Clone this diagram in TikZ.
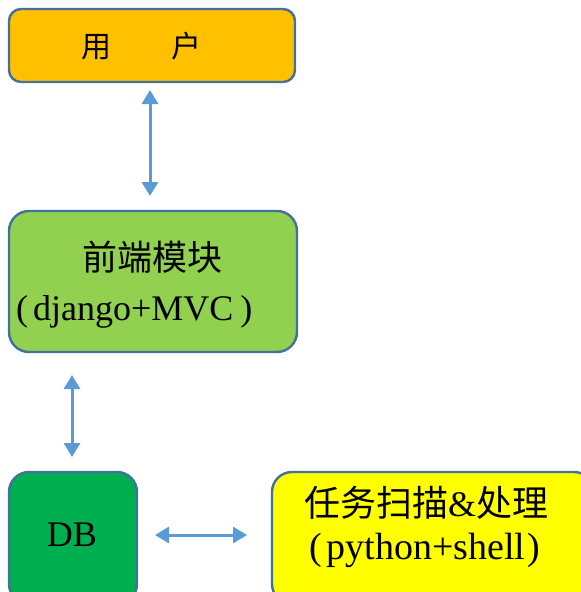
\documentclass[tikz,border=0pt]{standalone}
\usepackage{fontspec}
\setmainfont{Liberation Serif}
\newfontfamily\cjk{Noto Sans CJK SC}
\usetikzlibrary{arrows.meta}
\definecolor{cUser}{HTML}{FFC000}
\definecolor{cFront}{HTML}{92D050}
\definecolor{cDB}{HTML}{00B050}
\definecolor{cTask}{HTML}{FFFF00}
\definecolor{cBorder}{HTML}{41719C}
\definecolor{cArrow}{HTML}{5B9BD5}
\tikzset{
  box/.style={draw=cBorder, line width=2.4pt, inner sep=0pt, outer sep=0pt},
  biarrow/.style={draw=cArrow, line width=3pt, {Triangle[width=16pt,length=14pt]}-{Triangle[width=16pt,length=14pt]}},
  txt/.style={inner sep=0pt, text=black}
}
\begin{document}
\begin{tikzpicture}[x=1pt,y=-1pt]
\useasboundingbox (0,0) rectangle (581,592);
\clip (0,0) rectangle (581,592);
\node[box, fill=cUser, rounded corners=12pt, minimum width=286pt, minimum height=73pt] (user) at (152,45.5) {};
\node[box, fill=cFront, rounded corners=20pt, minimum width=288pt, minimum height=141pt] (front) at (153,281.5) {};
\node[box, fill=cDB, rounded corners=20pt, minimum width=128pt, minimum height=132pt] (db) at (73,538) {};
\node[box, fill=cTask, rounded corners=20pt, minimum width=322pt, minimum height=132pt] (task) at (433,538) {};
\node[txt, font=\cjk\fontsize{30}{32}\selectfont] (userT) at (141,46) {用　　户};
\node[txt, font=\cjk\fontsize{35}{37}\selectfont] (frontA) at (152,257) {前端模块};
\node[txt, anchor=west, font=\fontsize{36}{38}\selectfont] (frontB) at (16,312) {(\hspace{5pt}django+MVC\hspace{7pt})};
\node[txt, font=\fontsize{36}{38}\selectfont] (dbT) at (72,535) {DB};
\node[txt, font=\cjk\fontsize{36}{38}\selectfont] (taskA) at (426,503) {任务扫描{\rmfamily\&}处理};
\node[txt, font=\fontsize{38}{40}\selectfont] (taskB) at (425,550) {(\hspace{4pt}python+shell\hspace{2pt})};
\draw[biarrow] ([xshift=-2pt,yshift=-8pt]user.south) -- ([xshift=-3pt,yshift=15pt]front.north);
\draw[biarrow] ([xshift=63pt,yshift=-23pt]front.south west) -- ([xshift=-1pt,yshift=15pt]db.north);
\draw[biarrow] ([xshift=18pt,yshift=3pt]db.east) -- ([xshift=-25pt,yshift=3pt]task.west);
\end{tikzpicture}
\end{document}
